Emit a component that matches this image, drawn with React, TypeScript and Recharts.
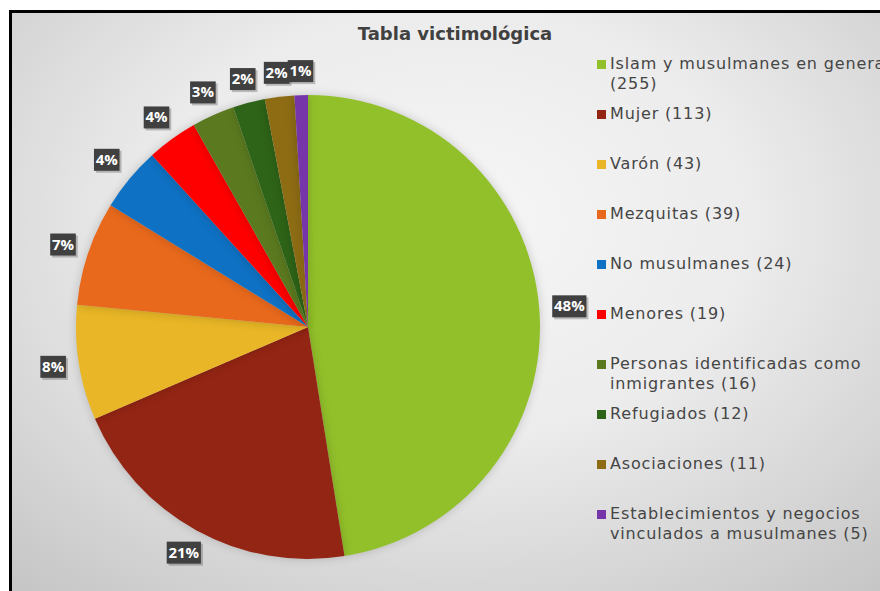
import React from 'react';
import { PieChart, Pie, Cell, Legend } from 'recharts';

const categories = [
  'Islam y musulmanes en general',
  'Mujer',
  'Varón',
  'Mezquitas',
  'No musulmanes',
  'Menores',
  'Personas identificadas como inmigrantes',
  'Refugiados',
  'Asociaciones',
  'Establecimientos y negocios vinculados a musulmanes',
];
const counts = [255, 113, 43, 39, 24, 19, 16, 12, 11, 5];
const percentLabels = ['48%', '21%', '8%', '7%', '4%', '4%', '3%', '2%', '2%', '1%'];
const colors = [
  '#92c02a', '#932514', '#e8b626', '#e8691c', '#0f71c3',
  '#fe0000', '#5b7a1f', '#2e6417', '#8d6c14', '#7635a8',
];

const data = categories.map((name, i) => ({
  name,
  value: counts[i],
  label: percentLabels[i],
  legend: `${name} (${counts[i]})`,
}));

const RAD = Math.PI / 180;
const BOX_H = 22;

const renderLabel = (props: any) => {
  const { cx, cy, midAngle, outerRadius, index } = props;
  const text = percentLabels[index];
  const w = (text.length - 1) * 8.6 + 9 + 8;
  const c = Math.cos(-midAngle * RAD);
  const s = Math.sin(-midAngle * RAD);
  const ext = Math.min(
    Math.abs(c) > 1e-6 ? w / 2 / Math.abs(c) : 1e9,
    Math.abs(s) > 1e-6 ? BOX_H / 2 / Math.abs(s) : 1e9
  );
  const r = outerRadius + 13 + ext;
  const x = cx + r * c;
  const y = cy + r * s;
  return (
    <g key={`lbl-${index}`}>
      <rect
        x={x - w / 2 + 2}
        y={y - BOX_H / 2 + 2}
        width={w}
        height={BOX_H}
        fill="rgba(0,0,0,0.22)"
      />
      <rect x={x - w / 2} y={y - BOX_H / 2} width={w} height={BOX_H} fill="#404040" />
      <text
        x={x}
        y={y + 1}
        fill="#ffffff"
        textAnchor="middle"
        dominantBaseline="middle"
        fontFamily="Open Sans"
        fontWeight="bold"
        fontSize={15}
      >
        {text}
      </text>
    </g>
  );
};

const renderLegend = () => (
  <div style={{ width: 310 }}>
    {data.map((d, i) => (
      <div
        key={d.name}
        style={{
          height: 50,
          display: 'flex',
          alignItems: 'flex-start',
          fontFamily: 'DejaVu Sans',
          fontSize: 16,
          letterSpacing: 0.85,
          lineHeight: '20px',
          color: '#454545',
        }}
      >
        <div
          style={{
            width: 9,
            height: 9,
            marginTop: 6,
            marginRight: 4,
            background: colors[i],
            flex: '0 0 auto',
          }}
        />
        <div style={{ width: 296, whiteSpace: 'normal' }}>{d.legend}</div>
      </div>
    ))}
  </div>
);

export default function App() {
  return (
    <div
      style={{
        position: 'absolute',
        left: 0,
        top: 0,
        width: 880,
        height: 591,
        background: '#ffffff',
        overflow: 'hidden',
      }}
    >
      <style>{'.recharts-pie-sector { filter: drop-shadow(0px 0px 5px rgba(0,0,0,0.18)); }'}</style>
      <div
        style={{
          position: 'absolute',
          left: 9,
          top: 10,
          width: 880,
          height: 600,
          borderLeft: '3px solid #000',
          borderTop: '3px solid #000',
          background:
            'radial-gradient(ellipse 75% 80% at 50% 35%, #f6f6f6 0%, #ececec 45%, #d4d4d4 80%, #c6c6c6 100%)',
        }}
      />
      <div
        style={{
          position: 'absolute',
          left: 0,
          width: 910,
          top: 23,
          textAlign: 'center',
          fontFamily: 'DejaVu Sans',
          fontWeight: 'bold',
          fontSize: 18,
          color: '#404040',
        }}
      >
        Tabla victimológica
      </div>
      <div style={{ position: 'absolute', left: 0, top: 0 }}>
        <PieChart width={880} height={591} margin={{ top: 0, right: 0, bottom: 0, left: 0 }}>
          <Pie
            data={data}
            dataKey="value"
            nameKey="name"
            cx={308}
            cy={327}
            outerRadius={232}
            startAngle={90}
            endAngle={-270}
            stroke="none"
            label={renderLabel}
            labelLine={false}
            isAnimationActive={false}
          >
            {data.map((d, i) => (
              <Cell key={d.name} fill={colors[i]} />
            ))}
          </Pie>
          <Legend
            content={renderLegend}
            layout="vertical"
            wrapperStyle={{ position: 'absolute', left: 597, top: 54, width: 320 }}
          />
        </PieChart>
      </div>
    </div>
  );
}
